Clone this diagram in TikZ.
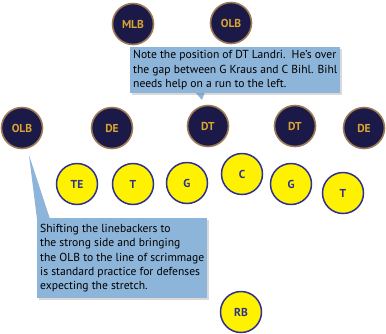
\documentclass[tikz,border=0pt]{standalone}
\usepackage{fontspec}
\setmainfont{PT Sans}
\usetikzlibrary{shadows,calc}
\definecolor{navy}{HTML}{1B1947}
\definecolor{tan}{HTML}{9C7B55}
\definecolor{gold}{HTML}{D9A530}
\definecolor{yel}{HTML}{FFF200}
\definecolor{blueline}{HTML}{2E3192}
\definecolor{callfill}{HTML}{8DB4D9}
\begin{document}
\begin{tikzpicture}[x=1pt,y=-1pt,
  defense/.style={circle,fill=navy,draw=tan,line width=1.6pt,minimum size=41pt,inner sep=0pt,
    text=gold,font=\fontsize{11.5}{13}\selectfont\bfseries},
  offense/.style={circle,fill=yel,draw=blueline,line width=1.5pt,minimum size=41pt,inner sep=0pt,
    text=blueline,font=\fontsize{11.5}{13}\selectfont\bfseries},
  callout/.style={anchor=north west,fill=callfill,inner xsep=3pt,inner ysep=2.5pt,align=left,
    font=\fontsize{11.6}{14.4}\selectfont,text=black,
    drop shadow={opacity=0.3,shadow xshift=2pt,shadow yshift=-2pt}},
  ptr/.style={fill=callfill}]
\useasboundingbox (0,0) rectangle (386,333);
% defense
\node[defense] (mlb) at (133,24) {MLB};
\node[defense] (olbt) at (231,23) {OLB};
\node[defense] (olbl) at (22,128) {OLB};
\node[defense] (del) at (112,128) {DE};
\node[defense] (dtl) at (208,126) {DT};
\node[defense] (dtr) at (295,126) {DT};
\node[defense] (der) at (364,128) {DE};
% offense
\node[offense] (te) at (77,184) {TE};
\node[offense] (tl) at (133,184) {T};
\node[offense] (gl) at (187,183) {G};
\node[offense] (c) at (242,174) {C};
\node[offense] (gr) at (291,184) {G};
\node[offense] (tr) at (343,193) {T};
\node[offense] (rb) at (241,312) {RB};
% callout 1
\coordinate (tip1) at (202,100);
\fill[callfill] (195,92) -- (tip1) -- (205,92) -- cycle;
\node[callout,minimum width=208pt,minimum height=46pt] (note1) at (130,47)
  {Note the position of DT Landri.\ \ He’s over\\the gap between G Kraus and C Bihl. Bihl\\needs help on a run to the left.};
% callout 2
\coordinate (tip2) at (29,155);
\fill[callfill] (37,219) -- (tip2) -- (50,219) -- cycle;
\node[callout,minimum width=169pt,minimum height=80pt] (note2) at (37,218)
  {Shifting the linebackers to\\the strong side and bringing\\the OLB to the line of scrimmage\\is standard practice for defenses\\expecting the stretch.};
\end{tikzpicture}
\end{document}
